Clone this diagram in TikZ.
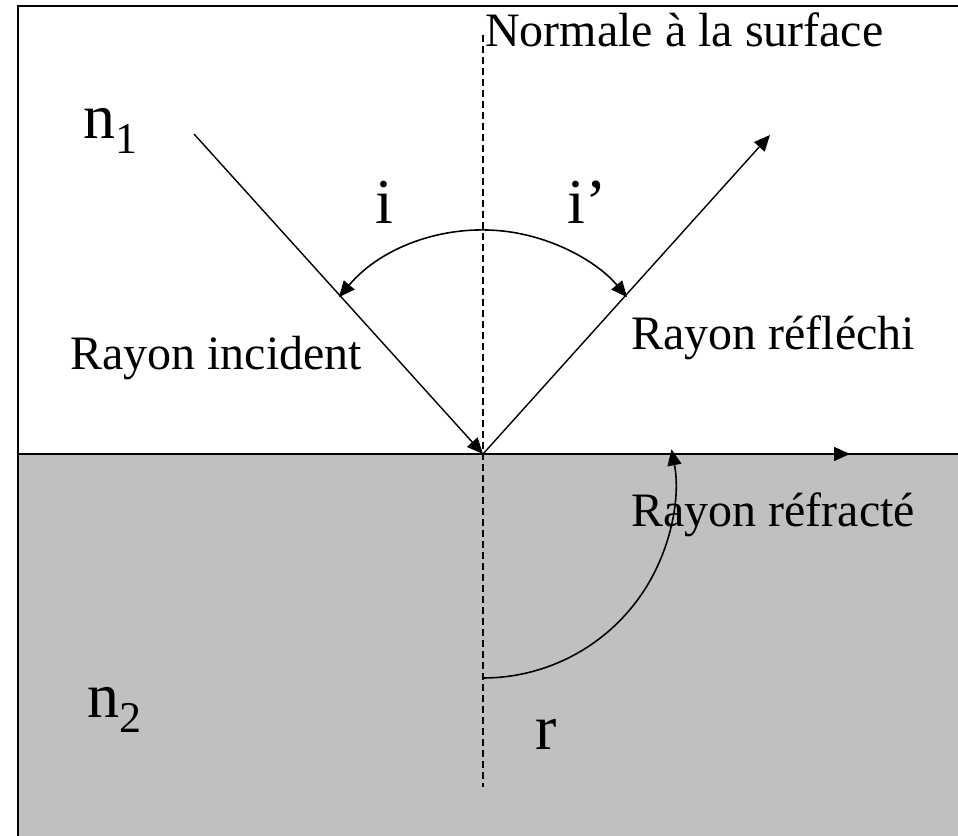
\documentclass[tikz,border=0pt]{standalone}
\usepackage{fontspec}
\setmainfont{Liberation Serif}
\usetikzlibrary{arrows.meta}
\definecolor{medgray}{HTML}{C0C0C0}
\newcommand{\lowidx}[1]{\raisebox{-0.23em}{\fontsize{25}{25}\selectfont #1}}

\begin{document}
\begin{tikzpicture}[
      txt/.style={font=\fontsize{27.3}{30}\selectfont, inner sep=0pt,
                  anchor=base west},
      big/.style={font=\fontsize{36.4}{40}\selectfont, inner sep=0pt,
                  anchor=base west},
      ray/.style={line width=0.8pt,
                  -{Triangle[length=0.32cm, width=0.28cm]}},
      anglearc/.style={line width=0.9pt,
                  {Triangle[length=0.32cm, width=0.28cm]}-{Triangle[length=0.32cm, width=0.28cm]}},
      refrarc/.style={line width=0.9pt,
                  -{Triangle[length=0.32cm, width=0.28cm]}},
      normline/.style={line width=0.8pt, dash pattern=on 0.14cm off 0.08cm},
      frame/.style={line width=1.1pt},
    ]

    \useasboundingbox (-9.66,-7.64) rectangle (9.5,9.08);
    \clip (-9.66,-7.64) rectangle (9.5,9.08);

    % the two media
    \fill[medgray] (-9.3,0) rectangle (9.7,-7.8);
    \draw[frame] (9.7,8.96) -- (-9.3,8.96) -- (-9.3,-7.8);
    \draw[frame] (-9.3,0) -- (9.7,0);

    \coordinate (O) at (0,0);
    \coordinate (ntop) at (0,8.38);
    \coordinate (nbot) at (0,-6.66);
    \coordinate (inc) at (-5.78,6.4);
    \coordinate (refl) at (5.74,6.38);
    \coordinate (refr) at (7.34,0);
    \coordinate (ic) at (0,0.72);
    \coordinate (rc) at (0,-0.64);

    \draw[normline] (ntop) -- (nbot);

    \draw[ray] (inc) -- (O);
    \draw[ray] (O) -- (refl);
    \draw[ray] (O) -- (refr);

    \draw[anglearc] ([shift={(140:3.76)}]ic) arc[start angle=140, end angle=40, radius=3.76];
    \draw[refrarc] ([shift={(-90:3.84)}]rc) arc[start angle=-90, end angle=11, radius=3.84];

    \node[txt] (normtxt) at (0.04,8.14) {Normale à la surface};
    \node[big] (n1) at (-8.0,6.3) {n\lowidx{1}};
    \node[big] (n2) at (-7.92,-5.28) {n\lowidx{2}};
    \node[big] (angi) at (-2.16,4.6) {i};
    \node[big] (angir) at (1.68,4.6) {i’};
    \node[big] (angr) at (1.04,-5.92) {r};
    \node[txt] (inctxt) at (-8.26,1.68) {Rayon incident};
    \node[txt] (refltxt) at (2.96,2.08) {Rayon réfléchi};
    \node[txt] (refrtxt) at (2.96,-1.46) {Rayon réfracté};

  \end{tikzpicture}
\end{document}
